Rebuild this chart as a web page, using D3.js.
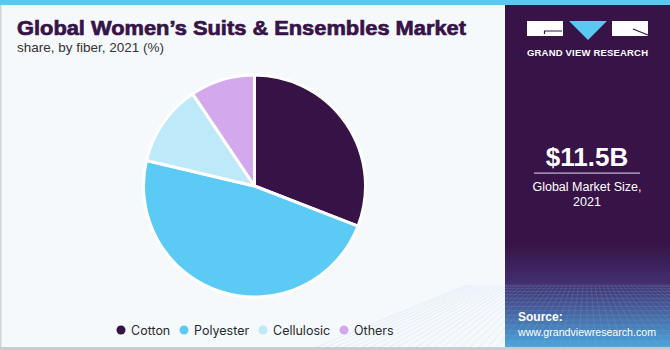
<!DOCTYPE html>
<html><head><meta charset="utf-8">
<script src="https://cdn.jsdelivr.net/npm/d3@7"></script>
<style>body{margin:0;padding:0;overflow:hidden;background:#fff}svg{display:block}</style>
</head><body>
<script>
const categories = ["Cotton", "Polyester", "Cellulosic", "Others"];
const shares = [30.9, 47.8, 11.9, 9.4];
const colors = ["#371247", "#5bcbf5", "#bde9f9", "#d4a8ec"];

const W = 670, H = 350;
const svg = d3.select("body").append("svg").attr("width", W).attr("height", H);

// backgrounds
svg.append("rect").attr("width", W).attr("height", H).attr("fill", "#f5f9fc");
svg.append("rect").attr("x", 0).attr("y", 0).attr("width", 1.5).attr("height", H).attr("fill", "#d0d4d8");
svg.append("rect").attr("x", 0).attr("y", 347).attr("width", W).attr("height", 3).attr("fill", "#c9cdd1");

// right panel
const defs = svg.append("defs");
const grad = defs.append("linearGradient").attr("id", "pg").attr("x1", 0).attr("y1", 0).attr("x2", 0).attr("y2", 1);
grad.append("stop").attr("offset", "0%").attr("stop-color", "#371347");
grad.append("stop").attr("offset", "70%").attr("stop-color", "#371347");
grad.append("stop").attr("offset", "82%").attr("stop-color", "#423070");
grad.append("stop").attr("offset", "100%").attr("stop-color", "#4aa6dc");
svg.append("rect").attr("x", 505).attr("y", 0).attr("width", 165).attr("height", 347).attr("fill", "url(#pg)");

// grid texture at bottom of panel
const gridG = svg.append("g").attr("stroke", "#9fb6e0").attr("stroke-opacity", 0.25).attr("stroke-width", 0.7).attr("fill", "none");
d3.range(-10, 52).forEach(i => {
  gridG.append("line").attr("x1", 587 + (i - 20) * 4).attr("y1", 285).attr("x2", 587 + (i - 20) * 9).attr("y2", 347);
});
d3.range(0, 16).forEach(j => {
  const y = 285 + Math.pow(j / 15, 1.4) * 62;
  gridG.append("line").attr("x1", 505).attr("y1", y).attr("x2", 670).attr("y2", y);
});

// top blue bar
svg.append("rect").attr("x", 0).attr("y", 0).attr("width", W).attr("height", 5).attr("fill", "#5bc8f2");

// logo
const logo = svg.append("g");
logo.append("rect").attr("x", 527).attr("y", 21).attr("width", 36).attr("height", 15).attr("fill", "#fff");
logo.append("path").attr("d", "M544,31 L562,31 M544.5,31 L544.5,34").attr("stroke", "#371347").attr("stroke-width", 1.2).attr("fill", "none");
logo.append("path").attr("d", "M569,21 L607,21 L588,40 Z").attr("fill", "#5bc8f2");
logo.append("rect").attr("x", 612).attr("y", 21).attr("width", 36).attr("height", 15).attr("fill", "#fff");
logo.append("path").attr("d", "M633,29 L648,35").attr("stroke", "#371347").attr("stroke-width", 1.2);
logo.append("text").attr("x", 527).attr("y", 55.5)
  .attr("font-family", "Liberation Sans, Arial, sans-serif").attr("font-weight", "bold").attr("font-size", 9.5)
  .attr("textLength", 121).attr("lengthAdjust", "spacing").attr("fill", "#fff").text("GRAND VIEW RESEARCH");

// market size
svg.append("text").attr("x", 587).attr("y", 166).attr("text-anchor", "middle")
  .attr("font-family", "Liberation Sans, Arial, sans-serif").attr("font-weight", "bold").attr("font-size", 26)
  .attr("fill", "#fff").text("$11.5B");
svg.append("rect").attr("x", 534).attr("y", 172.5).attr("width", 106).attr("height", 1.2).attr("fill", "#c9b8d6");
svg.append("text").attr("x", 587).attr("y", 191).attr("text-anchor", "middle")
  .attr("font-family", "Liberation Sans, Arial, sans-serif").attr("font-size", 12.5).attr("fill", "#fff").text("Global Market Size,");
svg.append("text").attr("x", 587).attr("y", 206).attr("text-anchor", "middle")
  .attr("font-family", "Liberation Sans, Arial, sans-serif").attr("font-size", 12.5).attr("fill", "#fff").text("2021");

// source
svg.append("text").attr("x", 518).attr("y", 321)
  .attr("font-family", "Liberation Sans, Arial, sans-serif").attr("font-weight", "bold").attr("font-size", 12).attr("fill", "#fff").text("Source:");
svg.append("text").attr("x", 518).attr("y", 336)
  .attr("font-family", "Liberation Sans, Arial, sans-serif").attr("font-size", 11.5).attr("fill", "#fff")
  .attr("textLength", 138).attr("lengthAdjust", "spacingAndGlyphs").text("www.grandviewresearch.com");

// title
svg.append("text").attr("x", 17).attr("y", 35)
  .attr("font-family", "Liberation Sans, Arial, sans-serif").attr("font-weight", "900").attr("font-size", 21)
  .attr("fill", "#371347").attr("stroke", "#371347").attr("stroke-width", 0.7)
  .attr("textLength", 449).attr("lengthAdjust", "spacingAndGlyphs")
  .text("Global Women’s Suits & Ensembles Market");
svg.append("text").attr("x", 17).attr("y", 52)
  .attr("font-family", "Liberation Sans, Arial, sans-serif").attr("font-size", 13.5).attr("fill", "#333")
  .text("share, by fiber, 2021 (%)");

// pie
const cx = 254.5, cy = 186, R = 111;
const pie = d3.pie().sort(null).value(d => d)(shares);
const arc = d3.arc().innerRadius(0).outerRadius(R);
const pg = svg.append("g").attr("transform", `translate(${cx},${cy})`);
pg.selectAll("path").data(pie).join("path")
  .attr("d", arc)
  .attr("fill", (d, i) => colors[i])
  .attr("stroke", "#ffffff").attr("stroke-width", 3).attr("stroke-linejoin", "round");

// legend
const legX = [121, 184, 263, 344];
const lg = svg.append("g");
categories.forEach((c, i) => {
  lg.append("circle").attr("cx", legX[i]).attr("cy", 330).attr("r", 4.5).attr("fill", colors[i]);
  lg.append("text").attr("x", legX[i] + 10).attr("y", 334.5)
    .attr("font-family", "Inter, Roboto, sans-serif").attr("font-size", 12.5).attr("fill", "#2b2b2b").text(c);
});
</script>
</body></html>
